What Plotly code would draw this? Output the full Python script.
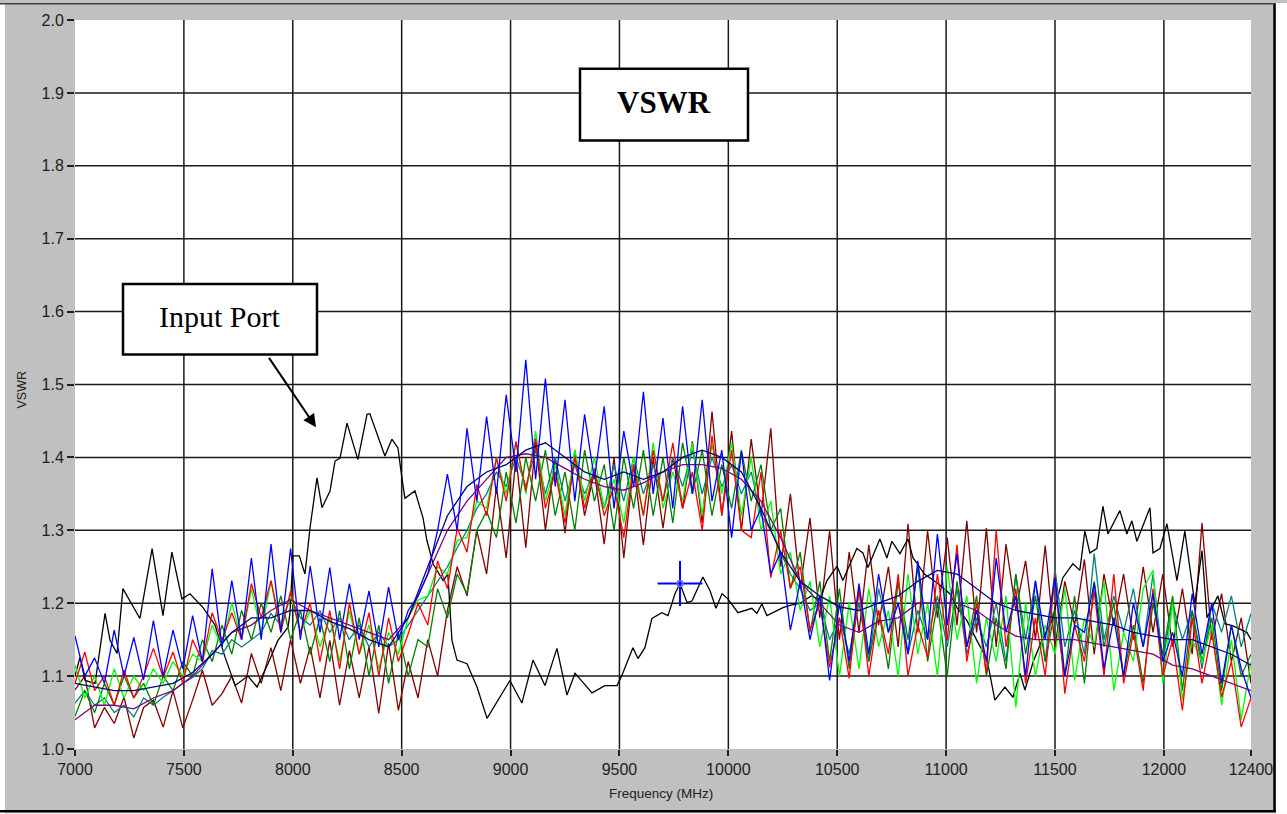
import plotly.graph_objects as go

# ---------------- data ----------------
FREQ_FINE = list(range(7000, 12401, 45))      # 121 points
FREQ_COARSE = list(range(7000, 12401, 90))    # 61 points

BLACK_FREQ = [7000, 7023, 7046, 7092, 7138, 7161, 7193, 7220, 7298, 7354, 7404, 7445, 7491, 7528, 7588,
              7643, 7689, 7735, 7794, 7836, 7886, 7932, 7978, 7987, 8001, 8030, 8056, 8079, 8111, 8134,
              8171, 8194, 8217, 8249, 8299, 8341, 8354, 8423, 8455, 8483, 8501, 8515, 8561, 8598, 8616,
              8644, 8690, 8712, 8731, 8754, 8800, 8846, 8892, 8951, 8997, 9052, 9103, 9158, 9213, 9259,
              9296, 9374, 9433, 9489, 9511, 9562, 9585, 9617, 9649, 9695, 9723, 9755, 9778, 9810, 9833,
              9883, 9916, 9943, 9971, 9998, 10044, 10108, 10131, 10154, 10177, 10251, 10283, 10330, 10380,
              10420, 10453, 10499, 10526, 10590, 10618, 10641, 10696, 10728, 10751, 10788, 10825, 10848,
              10866, 10900, 10958, 11017, 11050, 11096, 11141, 11187, 11224, 11270, 11307, 11339, 11362,
              11400, 11440, 11486, 11536, 11582, 11614, 11637, 11660, 11692, 11720, 11743, 11798, 11830,
              11853, 11876, 11936, 11950, 11982, 12014, 12060, 12096, 12142, 12175, 12198, 12248, 12280,
              12317, 12381, 12400]
BLACK_VSWR = [1.100, 1.126, 1.094, 1.090, 1.186, 1.149, 1.131, 1.220, 1.179, 1.275, 1.183, 1.270, 1.206, 1.213, 1.194,
              1.170, 1.126, 1.087, 1.100, 1.085, 1.117, 1.149, 1.167, 1.186, 1.265, 1.265, 1.240, 1.303, 1.372, 1.331,
              1.354, 1.395, 1.399, 1.447, 1.397, 1.459, 1.460, 1.402, 1.425, 1.413, 1.372, 1.344, 1.354, 1.317, 1.286,
              1.254, 1.231, 1.240, 1.149, 1.122, 1.117, 1.085, 1.042, 1.071, 1.094, 1.063, 1.122, 1.087, 1.138, 1.074,
              1.104, 1.077, 1.087, 1.087, 1.101, 1.139, 1.124, 1.139, 1.179, 1.187, 1.183, 1.213, 1.227, 1.201, 1.203,
              1.236, 1.217, 1.193, 1.213, 1.206, 1.187, 1.193, 1.186, 1.199, 1.183, 1.194, 1.197, 1.200, 1.210,
              1.205, 1.231, 1.251, 1.231, 1.275, 1.269, 1.249, 1.288, 1.262, 1.285, 1.268, 1.288, 1.262,
              1.255, 1.240, 1.228, 1.213, 1.194, 1.176, 1.149, 1.124, 1.067, 1.085, 1.071, 1.104, 1.081,
              1.120, 1.149, 1.176, 1.235, 1.254, 1.245, 1.299, 1.269, 1.275, 1.333, 1.295, 1.327, 1.295,
              1.313, 1.285, 1.331, 1.269, 1.275, 1.309, 1.231, 1.299, 1.199, 1.272, 1.180, 1.210, 1.172,
              1.169, 1.160, 1.150]

BLUE_VSWR = [1.155, 1.100, 1.125, 1.090, 1.163, 1.100, 1.153, 1.095, 1.176, 1.100,
             1.163, 1.110, 1.183, 1.120, 1.247, 1.140, 1.231, 1.150, 1.262, 1.150,
             1.281, 1.160, 1.275, 1.150, 1.251, 1.160, 1.249, 1.150, 1.227, 1.150,
             1.217, 1.140, 1.222, 1.150, 1.190, 1.210, 1.240, 1.300, 1.377, 1.300,
             1.440, 1.340, 1.456, 1.350, 1.486, 1.380, 1.534, 1.370, 1.508, 1.360,
             1.479, 1.340, 1.459, 1.370, 1.470, 1.330, 1.436, 1.360, 1.490, 1.350,
             1.454, 1.330, 1.470, 1.350, 1.479, 1.340, 1.410, 1.290, 1.408, 1.300,
             1.330, 1.240, 1.270, 1.163, 1.230, 1.150, 1.210, 1.094, 1.200, 1.120,
             1.227, 1.130, 1.240, 1.160, 1.200, 1.130, 1.258, 1.150, 1.295, 1.170,
             1.268, 1.140, 1.190, 1.120, 1.262, 1.160, 1.210, 1.100, 1.231, 1.150,
             1.235, 1.100, 1.170, 1.160, 1.228, 1.110, 1.180, 1.100, 1.200, 1.140,
             1.213, 1.120, 1.160, 1.100, 1.213, 1.130, 1.200, 1.090, 1.170, 1.110,
             1.070]

RED_VSWR = [1.090, 1.133, 1.080, 1.100, 1.060, 1.108, 1.070, 1.100, 1.138, 1.098,
            1.133, 1.090, 1.150, 1.120, 1.187, 1.149, 1.187, 1.150, 1.227, 1.180,
            1.231, 1.160, 1.217, 1.160, 1.200, 1.120, 1.190, 1.110, 1.200, 1.130,
            1.187, 1.100, 1.180, 1.120, 1.158, 1.200, 1.170, 1.258, 1.220, 1.303,
            1.270, 1.363, 1.320, 1.399, 1.340, 1.422, 1.354, 1.426, 1.330, 1.380,
            1.310, 1.400, 1.330, 1.385, 1.320, 1.360, 1.290, 1.390, 1.320, 1.410,
            1.340, 1.420, 1.330, 1.380, 1.300, 1.430, 1.322, 1.410, 1.300, 1.290,
            1.380, 1.235, 1.300, 1.221, 1.250, 1.163, 1.200, 1.112, 1.180, 1.097,
            1.220, 1.100, 1.190, 1.130, 1.240, 1.100, 1.170, 1.126, 1.240, 1.149,
            1.280, 1.120, 1.200, 1.104, 1.300, 1.140, 1.220, 1.090, 1.180, 1.100,
            1.240, 1.076, 1.170, 1.120, 1.217, 1.100, 1.240, 1.090, 1.160, 1.080,
            1.220, 1.100, 1.150, 1.053, 1.180, 1.090, 1.160, 1.071, 1.120, 1.030,
            1.070]

GREEN_VSWR = [1.115, 1.070, 1.100, 1.060, 1.110, 1.070, 1.100, 1.080, 1.110, 1.090,
              1.120, 1.100, 1.130, 1.120, 1.170, 1.140, 1.200, 1.150, 1.220, 1.160,
              1.231, 1.170, 1.210, 1.160, 1.190, 1.140, 1.180, 1.120, 1.190, 1.130,
              1.170, 1.110, 1.160, 1.130, 1.180, 1.204, 1.210, 1.250, 1.240, 1.286,
              1.290, 1.340, 1.330, 1.400, 1.350, 1.420, 1.350, 1.436, 1.340, 1.390,
              1.320, 1.410, 1.340, 1.400, 1.330, 1.370, 1.310, 1.400, 1.320, 1.420,
              1.330, 1.380, 1.340, 1.420, 1.320, 1.418, 1.350, 1.420, 1.320, 1.400,
              1.300, 1.340, 1.240, 1.270, 1.190, 1.230, 1.140, 1.210, 1.100, 1.200,
              1.110, 1.220, 1.140, 1.190, 1.100, 1.240, 1.130, 1.200, 1.100, 1.250,
              1.150, 1.210, 1.090, 1.180, 1.120, 1.210, 1.057, 1.200, 1.100, 1.170,
              1.130, 1.220, 1.094, 1.180, 1.140, 1.230, 1.080, 1.160, 1.120, 1.220,
              1.245, 1.090, 1.200, 1.067, 1.150, 1.120, 1.170, 1.060, 1.150, 1.040,
              1.120]

DKGREEN_VSWR = [1.045, 1.080, 1.050, 1.090, 1.060, 1.100, 1.070, 1.090, 1.060, 1.100,
                1.080, 1.120, 1.100, 1.150, 1.120, 1.170, 1.130, 1.190, 1.150, 1.200,
                1.160, 1.210, 1.150, 1.190, 1.130, 1.180, 1.120, 1.190, 1.110, 1.180,
                1.100, 1.170, 1.090, 1.160, 1.100, 1.150, 1.140, 1.220, 1.180, 1.240,
                1.213, 1.300, 1.326, 1.290, 1.380, 1.310, 1.400, 1.340, 1.410, 1.320,
                1.380, 1.300, 1.410, 1.340, 1.390, 1.300, 1.400, 1.330, 1.410, 1.320,
                1.400, 1.310, 1.420, 1.350, 1.410, 1.320, 1.390, 1.330, 1.410, 1.340,
                1.390, 1.300, 1.330, 1.220, 1.270, 1.160, 1.230, 1.120, 1.220, 1.110,
                1.220, 1.120, 1.190, 1.110, 1.230, 1.150, 1.250, 1.120, 1.200, 1.100,
                1.230, 1.140, 1.210, 1.100, 1.180, 1.110, 1.240, 1.130, 1.210, 1.120,
                1.190, 1.100, 1.210, 1.090, 1.230, 1.140, 1.200, 1.100, 1.170, 1.090,
                1.200, 1.130, 1.210, 1.080, 1.190, 1.120, 1.180, 1.080, 1.170, 1.100,
                1.130]

TEAL_VSWR = [1.063, 1.080, 1.060, 1.070, 1.050, 1.060, 1.044, 1.070, 1.060, 1.071,
             1.080, 1.090, 1.098, 1.110, 1.135, 1.130, 1.150, 1.140, 1.150, 1.160,
             1.186, 1.170, 1.208, 1.180, 1.170, 1.190, 1.160, 1.180, 1.150, 1.170,
             1.140, 1.160, 1.140, 1.150, 1.170, 1.190, 1.210, 1.230, 1.250, 1.276,
             1.300, 1.330, 1.350, 1.380, 1.360, 1.400, 1.360, 1.410, 1.350, 1.400,
             1.340, 1.390, 1.350, 1.380, 1.330, 1.390, 1.340, 1.400, 1.350, 1.390,
             1.340, 1.400, 1.360, 1.410, 1.350, 1.400, 1.360, 1.390, 1.350, 1.380,
             1.320, 1.300, 1.270, 1.240, 1.220, 1.190, 1.200, 1.150, 1.180, 1.130,
             1.200, 1.120, 1.220, 1.160, 1.230, 1.130, 1.190, 1.150, 1.210, 1.140,
             1.220, 1.130, 1.180, 1.140, 1.200, 1.120, 1.240, 1.150, 1.230, 1.120,
             1.247, 1.140, 1.190, 1.130, 1.268, 1.150, 1.210, 1.160, 1.220, 1.140,
             1.240, 1.120, 1.200, 1.150, 1.190, 1.110, 1.200, 1.160, 1.210, 1.140,
             1.186]

MAROON_VSWR = [1.081, 1.100, 1.029, 1.057, 1.035, 1.071, 1.015, 1.057, 1.067, 1.030,
               1.080, 1.029, 1.067, 1.108, 1.060, 1.076, 1.100, 1.063, 1.131, 1.090,
               1.139, 1.080, 1.150, 1.090, 1.140, 1.070, 1.149, 1.060, 1.135, 1.070,
               1.140, 1.049, 1.145, 1.053, 1.120, 1.070, 1.150, 1.100, 1.190, 1.250,
               1.210, 1.300, 1.240, 1.360, 1.262, 1.400, 1.276, 1.422, 1.300, 1.400,
               1.296, 1.410, 1.320, 1.380, 1.281, 1.400, 1.262, 1.390, 1.280, 1.399,
               1.303, 1.400, 1.330, 1.422, 1.310, 1.463, 1.320, 1.436, 1.300, 1.425,
               1.320, 1.440, 1.250, 1.350, 1.220, 1.317, 1.180, 1.299, 1.150, 1.270,
               1.160, 1.280, 1.170, 1.250, 1.140, 1.309, 1.160, 1.299, 1.180, 1.290,
               1.170, 1.313, 1.160, 1.303, 1.140, 1.281, 1.190, 1.258, 1.150, 1.279,
               1.140, 1.230, 1.170, 1.260, 1.130, 1.240, 1.170, 1.240, 1.150, 1.250,
               1.160, 1.240, 1.140, 1.220, 1.130, 1.310, 1.150, 1.213, 1.120, 1.180,
               1.090]

PURPLE_VSWR = [1.040, 1.060, 1.060, 1.055, 1.070, 1.080, 1.100, 1.130, 1.160, 1.170,
               1.190, 1.205, 1.190, 1.180, 1.170, 1.160, 1.150, 1.180, 1.240, 1.300,
               1.340, 1.370, 1.400, 1.405, 1.400, 1.385, 1.370, 1.360, 1.355, 1.365,
               1.380, 1.390, 1.390, 1.385, 1.370, 1.340, 1.290, 1.230, 1.200, 1.170,
               1.160, 1.175, 1.180, 1.200, 1.200, 1.200, 1.190, 1.170, 1.155, 1.150,
               1.150, 1.150, 1.145, 1.140, 1.135, 1.130, 1.115, 1.110, 1.100, 1.090,
               1.080]

NAVY_VSWR = [1.090, 1.085, 1.080, 1.080, 1.085, 1.090, 1.105, 1.130, 1.160, 1.180,
             1.180, 1.190, 1.190, 1.175, 1.165, 1.150, 1.140, 1.180, 1.250, 1.320,
             1.360, 1.380, 1.390, 1.410, 1.420, 1.400, 1.380, 1.370, 1.380, 1.370,
             1.380, 1.400, 1.410, 1.400, 1.380, 1.330, 1.270, 1.230, 1.210, 1.195,
             1.190, 1.200, 1.210, 1.230, 1.245, 1.240, 1.220, 1.200, 1.190, 1.185,
             1.180, 1.180, 1.175, 1.170, 1.160, 1.155, 1.150, 1.150, 1.140, 1.130,
             1.115]

MARKER_FREQ = [9778]
MARKER_VSWR = [1.227]

X_TICKS = [7000, 7500, 8000, 8500, 9000, 9500, 10000, 10500, 11000, 11500, 12000, 12400]
X_TICK_TEXT = ["7000", "7500", "8000", "8500", "9000", "9500", "10000", "10500", "11000", "11500", "12000", "12400"]
Y_TICKS = [1.0, 1.1, 1.2, 1.3, 1.4, 1.5, 1.6, 1.7, 1.8, 1.9, 2.0]
Y_TICK_TEXT = ["1.0", "1.1", "1.2", "1.3", "1.4", "1.5", "1.6", "1.7", "1.8", "1.9", "2.0"]

# ---------------- figure ----------------
W, H = 1287, 814
L, R, T, B = 75, 36, 17, 65
PW, PH = W - L - R, H - T - B
X_RANGE = [7000, 12400]
Y_RANGE = [1.0, 2.0]


def px(x):
    return (x - L) / PW


def py(y):
    return (H - B - y) / PH


fig = go.Figure()

series = [
    (FREQ_FINE, MAROON_VSWR, "#800000"),
    (BLACK_FREQ, BLACK_VSWR, "#000000"),
    (FREQ_FINE, TEAL_VSWR, "#008080"),
    (FREQ_FINE, DKGREEN_VSWR, "#008000"),
    (FREQ_FINE, GREEN_VSWR, "#00FF00"),
    (FREQ_FINE, RED_VSWR, "#FF0000"),
    (FREQ_COARSE, PURPLE_VSWR, "#800080"),
    (FREQ_COARSE, NAVY_VSWR, "#000080"),
    (FREQ_FINE, BLUE_VSWR, "#0000FF"),
]
for xs, ys, col in series:
    fig.add_trace(go.Scatter(x=xs, y=ys, mode="lines",
                             line=dict(color=col, width=1.3), showlegend=False,
                             hoverinfo="skip"))

# cursor marker
fig.add_trace(go.Scatter(x=MARKER_FREQ, y=MARKER_VSWR, mode="markers",
                         marker=dict(symbol="cross-thin", size=32,
                                     line=dict(color="#0000FF", width=2)),
                         showlegend=False, hoverinfo="skip"))
fig.add_trace(go.Scatter(x=MARKER_FREQ, y=MARKER_VSWR, mode="markers",
                         marker=dict(symbol="circle-open", size=6,
                                     line=dict(color="#0000FF", width=1.5)),
                         showlegend=False, hoverinfo="skip"))

shapes = []
# interior grid lines only (no lines on the plot edges)
for xv in X_TICKS:
    if X_RANGE[0] < xv < X_RANGE[1]:
        shapes.append(dict(type="line", xref="x", yref="paper", x0=xv, x1=xv, y0=0, y1=1,
                           line=dict(color="#1a1a1a", width=1.5), layer="below"))
for yv in Y_TICKS:
    if Y_RANGE[0] < yv < Y_RANGE[1]:
        shapes.append(dict(type="line", xref="paper", yref="y", x0=0, x1=1, y0=yv, y1=yv,
                           line=dict(color="#1a1a1a", width=1.5), layer="below"))

# outer frame edges
shapes.append(dict(type="rect", xref="paper", yref="paper",
                   x0=px(0), x1=px(5), y0=py(H), y1=py(0),
                   fillcolor="white", line=dict(width=0), layer="below"))
shapes.append(dict(type="rect", xref="paper", yref="paper",
                   x0=px(1276), x1=px(W), y0=py(H), y1=py(0),
                   fillcolor="white", line=dict(width=0), layer="below"))
shapes.append(dict(type="rect", xref="paper", yref="paper",
                   x0=px(0), x1=px(W), y0=py(H), y1=py(813),
                   fillcolor="white", line=dict(width=0), layer="below"))
shapes.append(dict(type="line", xref="paper", yref="paper",
                   x0=px(1274.5), x1=px(1274.5), y0=py(812), y1=py(0),
                   line=dict(color="black", width=2.5)))
shapes.append(dict(type="line", xref="paper", yref="paper",
                   x0=px(0), x1=px(1276), y0=py(811.5), y1=py(811.5),
                   line=dict(color="black", width=2.5)))
shapes.append(dict(type="line", xref="paper", yref="paper",
                   x0=px(0), x1=px(1276), y0=py(0.8), y1=py(0.8),
                   line=dict(color="#404040", width=1.5)))

# VSWR title box
shapes.append(dict(type="rect", xref="paper", yref="paper",
                   x0=px(580), x1=px(748), y0=py(138), y1=py(66),
                   fillcolor="white", line=dict(color="black", width=2.5)))
# Input Port box
shapes.append(dict(type="rect", xref="paper", yref="paper",
                   x0=px(123), x1=px(317), y0=py(353), y1=py(282),
                   fillcolor="white", line=dict(color="black", width=2.5)))

annotations = [
    dict(xref="paper", yref="paper", x=px(664), y=py(100), text="<b>VSWR</b>",
         showarrow=False, font=dict(family="Liberation Serif", size=31, color="black"),
         xanchor="center", yanchor="middle"),
    dict(xref="paper", yref="paper", x=px(220), y=py(315), text="Input Port",
         showarrow=False, font=dict(family="Liberation Serif", size=30, color="black"),
         xanchor="center", yanchor="middle"),
    dict(xref="paper", yref="paper", x=px(316), y=py(426), text="",
         showarrow=True, ax=268 - 316, ay=355 - 426, arrowhead=2, arrowsize=1.3,
         arrowwidth=2, arrowcolor="black"),
    dict(xref="paper", yref="paper", x=px(661), y=py(794), text="Frequency (MHz)",
         showarrow=False, font=dict(family="Liberation Sans", size=13.5, color="#202020"),
         xanchor="center", yanchor="middle"),
    dict(xref="paper", yref="paper", x=px(22), y=py(388), text="VSWR", textangle=-90,
         showarrow=False, font=dict(family="Liberation Sans", size=12.5, color="#202020"),
         xanchor="center", yanchor="middle"),
]

fig.update_layout(
    width=W, height=H, autosize=False,
    margin=dict(l=L, r=R, t=T, b=B, pad=0),
    paper_bgcolor="#C0C0C0", plot_bgcolor="white",
    shapes=shapes, annotations=annotations,
    showlegend=False,
)
fig.update_xaxes(range=X_RANGE, tickmode="array", tickvals=X_TICKS, ticktext=X_TICK_TEXT,
                 showgrid=False, zeroline=False, showline=False,
                 ticks="outside", ticklen=6, tickwidth=1.5, tickcolor="#202020",
                 tickfont=dict(family="Liberation Sans", size=16, color="#202020"))
fig.update_yaxes(range=Y_RANGE, tickmode="array", tickvals=Y_TICKS, ticktext=Y_TICK_TEXT,
                 showgrid=False, zeroline=False, showline=False,
                 ticks="outside", ticklen=7, tickwidth=1.5, tickcolor="#202020",
                 tickfont=dict(family="Liberation Sans", size=16, color="#202020"))

fig.write_html("out.html", config={"displayModeBar": False},
               post_script="document.body.style.margin='0';document.body.style.overflow='hidden';")
